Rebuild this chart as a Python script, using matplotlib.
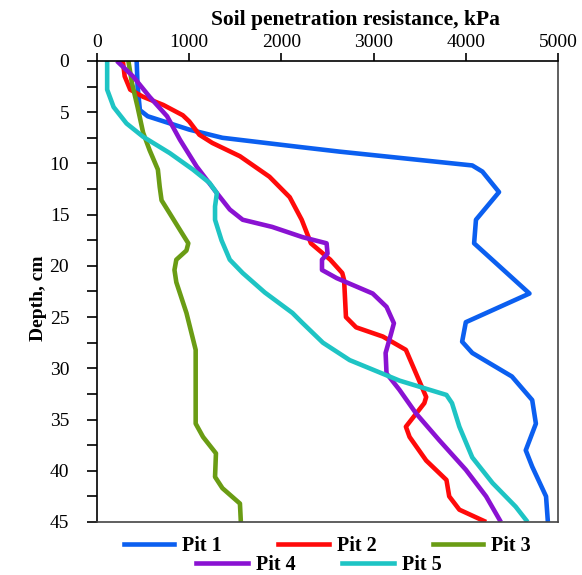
import numpy as np
import matplotlib
matplotlib.use("Agg")
import matplotlib.pyplot as plt
from matplotlib.ticker import MultipleLocator
from matplotlib.lines import Line2D

# Penetration resistance (kPa) vs depth (cm)
PIT1_KPA = [430, 440, 465, 550, 1000, 1360, 2200, 2630, 4070, 4180, 4360, 4110, 4090, 4690,
            4000, 3960, 4070, 4500, 4720, 4760, 4650, 4720, 4870, 4890]
PIT1_DEPTH = [0, 2.5, 4.8, 5.4, 6.7, 7.5, 8.4, 8.85, 10.2, 10.8, 12.8, 15.5, 17.8, 22.7,
              25.5, 27.4, 28.5, 30.8, 33.1, 35.4, 38.0, 39.6, 42.5, 45]

PIT2_KPA = [280, 300, 360, 500, 720, 930, 1000, 1110, 1250, 1550, 1870, 2090, 2220, 2320,
            2530, 2660, 2680, 2700, 2810, 3100, 3350, 3460, 3570, 3550, 3350, 3390, 3570,
            3790, 3820, 3930, 4220]
PIT2_DEPTH = [0, 1.5, 2.8, 3.5, 4.3, 5.3, 5.9, 7.2, 8.0, 9.3, 11.3, 13.3, 15.5, 17.8,
              19.4, 20.7, 21.4, 25.0, 26.0, 26.9, 28.2, 30.5, 32.8, 33.4, 35.7, 36.7, 39.0,
              40.9, 42.5, 43.8, 45]

PIT3_KPA = [340, 380, 440, 500, 570, 660, 680, 700, 790, 900, 990, 970, 860, 840, 860,
            970, 1070, 1070, 1150, 1290, 1280, 1360, 1550, 1560]
PIT3_DEPTH = [0, 2.2, 4.5, 7.0, 8.7, 10.6, 12.3, 13.6, 14.9, 16.5, 17.8, 18.5, 19.4, 20.4, 21.6,
              24.6, 28.2, 35.4, 36.7, 38.3, 40.6, 41.7, 43.2, 45]

PIT4_KPA = [215, 390, 570, 760, 900, 1080, 1300, 1440, 1580, 1900, 2230, 2490, 2500, 2440,
            2440, 2600, 2990, 3140, 3220, 3190, 3130, 3140, 3280, 3460, 3710, 4000, 4220, 4380]
PIT4_DEPTH = [0, 1.5, 3.5, 5.4, 7.7, 10.3, 12.9, 14.5, 15.5, 16.2, 17.2, 17.8, 18.8, 19.4,
              20.4, 21.2, 22.7, 24.0, 25.6, 26.6, 28.5, 30.5, 32.1, 34.4, 37.0, 39.9, 42.5, 45]

PIT5_KPA = [110, 110, 180, 320, 500, 790, 1040, 1220, 1300, 1280, 1280, 1350, 1440, 1580,
            1820, 2120, 2220, 2450, 2740, 3280, 3790, 3850, 3930, 4070, 4290, 4540, 4670]
PIT5_DEPTH = [0, 2.8, 4.5, 6.1, 7.4, 9.0, 10.6, 11.9, 12.9, 14.2, 15.5, 17.5, 19.4, 20.7,
              22.6, 24.6, 25.5, 27.5, 29.2, 31.2, 32.6, 33.4, 35.7, 38.7, 41.2, 43.5, 45]

LABELS = ["Pit 1", "Pit 2", "Pit 3", "Pit 4", "Pit 5"]
COLORS = ["#0b5ff0", "#ff0a0a", "#6a9c14", "#8a12d2", "#1ec4c4"]

serif = "Liberation Serif"
plt.rcParams["font.family"] = serif

fig = plt.figure(figsize=(5.82, 5.75), dpi=100)
ax = fig.add_axes([0.1667, 0.0922, 0.7921, 0.8018])

series = [(PIT1_KPA, PIT1_DEPTH), (PIT2_KPA, PIT2_DEPTH), (PIT3_KPA, PIT3_DEPTH),
          (PIT4_KPA, PIT4_DEPTH), (PIT5_KPA, PIT5_DEPTH)]
for (x, y), c in zip(series, COLORS):
    ax.plot(x, y, color=c, lw=3.3, solid_joinstyle="round", solid_capstyle="butt")

ax.set_xlim(0, 5000)
ax.set_ylim(45, 0)
ax.xaxis.tick_top()
ax.xaxis.set_label_position("top")
ax.xaxis.set_major_locator(MultipleLocator(1000))
ax.yaxis.set_major_locator(MultipleLocator(5))
ax.yaxis.set_minor_locator(MultipleLocator(2.5))
ax.tick_params(axis="both", which="both", direction="out", labelsize=14, width=1.2)
ax.tick_params(axis="x", length=6, pad=1)
ax.tick_params(axis="y", which="both", length=7, pad=13)

ax.set_xlabel("Soil penetration resistance, kPa", fontsize=15.5, fontweight="bold")
ax.xaxis.set_label_coords(0.56, 1.077)
ax.set_ylabel("Depth, cm", fontsize=14, fontweight="bold")
ax.yaxis.set_label_coords(-0.108, 0.485)

for s in ["top", "left"]:
    ax.spines[s].set_linewidth(1.2)
    ax.spines[s].set_color("black")
for s in ["right", "bottom"]:
    ax.spines[s].set_linewidth(1.2)
    ax.spines[s].set_color("#444444")

handles = [Line2D([], [], color=c, lw=3.3) for c in COLORS]
leg_font = {"family": serif, "weight": "bold", "size": 14.5}
leg1 = fig.legend(handles[:3], LABELS[:3], loc="center", bbox_to_anchor=(0.5627, 0.051),
                  ncol=3, frameon=False, prop=leg_font, handlelength=2.5,
                  columnspacing=2.8, handletextpad=0.4, borderpad=0, borderaxespad=0)
leg2 = fig.legend(handles[3:], LABELS[3:], loc="center", bbox_to_anchor=(0.548, 0.017),
                  ncol=2, frameon=False, prop=leg_font, handlelength=2.6,
                  columnspacing=2.3, handletextpad=0.4, borderpad=0, borderaxespad=0)

fig.savefig("out.png", dpi=100)
